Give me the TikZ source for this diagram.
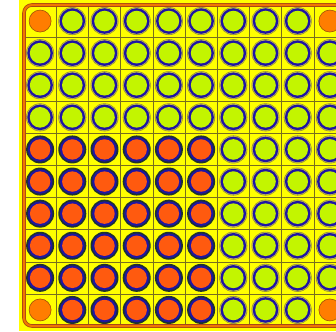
\documentclass[tikz,border=0pt]{standalone}
\definecolor{bgyel}{RGB}{255,255,0}
\definecolor{bordor}{RGB}{240,120,0}
\definecolor{bordbr}{RGB}{170,70,20}
\definecolor{gridc}{RGB}{120,110,30}
\definecolor{pingreen}{RGB}{195,245,0}
\definecolor{pinblue}{RGB}{30,20,165}
\definecolor{olivering}{RGB}{140,135,55}
\definecolor{lightring}{RGB}{200,195,75}
\definecolor{pinorange}{RGB}{255,90,15}
\definecolor{darkring}{RGB}{30,50,50}
\definecolor{cornorange}{RGB}{255,125,0}
\definecolor{cornedge}{RGB}{160,80,10}
\begin{document}
\begin{tikzpicture}[x=1pt,y=-1pt,
  gridline/.style={draw=gridc,line width=0.6pt},
  bordline/.style={draw=bordbr,line width=3.6pt,rounded corners=8pt},
  bordinner/.style={draw=bordor,line width=2pt,rounded corners=8pt}]
\useasboundingbox (0,0) rectangle (336,331);
\fill[bgyel] (19,0) rectangle (336,331);
\def\px{32.2}\def\py{32.1}\def\xo{24}\def\yo{5}
% grid lines
\foreach \i in {1,...,9}{
  \draw[gridline] ({\xo+\i*\px},\yo) -- ({\xo+\i*\px},{\yo+10*\py});
  \draw[gridline] (\xo,{\yo+\i*\py}) -- ({\xo+10*\px},{\yo+\i*\py});
}
% border
\draw[bordline] (\xo,\yo) rectangle ({\xo+10*\px},{\yo+10*\py});
\draw[bordinner] (\xo,\yo) rectangle ({\xo+10*\px},{\yo+10*\py});
% pins
\foreach \c in {1,...,10}{
  \foreach \r in {1,...,10}{
    \pgfmathsetmacro{\cx}{\xo+(\c-0.5)*\px}
    \pgfmathsetmacro{\cy}{\yo+(\r-0.5)*\py}
    \pgfmathtruncatemacro{\corner}{((\c==1||\c==10)&&(\r==1||\r==10))?1:0}
    \pgfmathtruncatemacro{\hot}{(\c<=6&&\r>=5)?1:0}
    \ifnum\corner=1
      \node[circle,minimum size=22pt,inner sep=0pt,fill=cornorange,draw=cornedge,line width=0.6pt] (p\c-\r) at (\cx,\cy) {};
    \else\ifnum\hot=1
      \node[circle,minimum size=28pt,inner sep=0pt,fill=darkring] (p\c-\r) at (\cx,\cy) {};
      \fill[pinblue] (\cx,\cy) circle (12.3);
      \fill[pinorange] (\cx,\cy) circle (10.2);
    \else
      \node[circle,minimum size=28pt,inner sep=0pt,fill=olivering] (p\c-\r) at (\cx,\cy) {};
      \fill[lightring] (\cx,\cy) circle (13.4);
      \fill[pinblue] (\cx,\cy) circle (12.8);
      \fill[pingreen] (\cx,\cy) circle (10.3);
    \fi\fi
  }
}
\end{tikzpicture}
\end{document}
